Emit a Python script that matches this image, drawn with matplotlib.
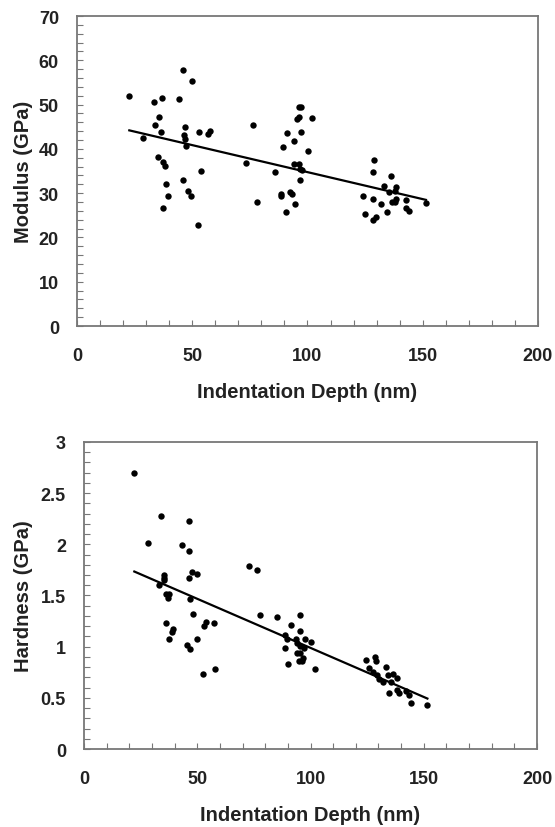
import numpy as np
import matplotlib
matplotlib.use("Agg")
import matplotlib.pyplot as plt
from matplotlib.ticker import MultipleLocator, FuncFormatter

# values
depth_mod = [22.7, 28.8, 33.4, 36.9, 44.1, 46.1, 49.8, 35.4, 34.0, 36.3,
             46.9, 46.4, 46.9, 47.3, 52.8, 57.0, 57.7, 35.3, 37.2, 38.3,
             53.6, 46.1, 38.8, 39.3, 48.2, 49.6, 37.4, 52.3, 76.4, 73.2,
             78.0, 86.0, 88.4, 88.7, 90.7, 89.2, 91.2, 94.1, 92.4, 93.4,
             94.7, 94.1, 96.2, 96.8, 97.8, 96.6, 96.2, 97.3, 95.3, 96.2,
             97.3, 100.1, 102.1, 129.0, 128.3, 136.4, 124.2, 128.3, 131.8, 133.2,
             135.2, 138.4, 138.0, 136.5, 138.0, 138.6, 142.7, 142.7, 144.2, 134.4,
             125.1, 128.3, 129.7, 151.4]
modulus = [51.9, 42.4, 50.5, 51.5, 51.2, 57.9, 55.4, 47.2, 45.5, 43.9,
           45.0, 43.1, 42.2, 40.7, 43.9, 43.4, 44.0, 38.1, 37.0, 36.2,
           35.1, 33.0, 32.1, 29.4, 30.4, 29.3, 26.6, 22.9, 45.5, 36.9,
           28.1, 34.8, 29.9, 29.4, 25.7, 40.4, 43.5, 41.8, 30.3, 29.8,
           27.5, 36.6, 36.6, 35.4, 35.2, 33.0, 49.5, 49.5, 46.7, 47.1,
           43.9, 39.6, 47.0, 37.6, 34.9, 33.8, 29.3, 28.8, 27.5, 31.7,
           30.2, 31.3, 30.4, 28.1, 28.1, 28.6, 28.4, 26.6, 26.0, 25.7,
           25.3, 23.9, 24.6, 27.9]

depth_hard = [22.2, 28.3, 33.9, 46.2, 43.4, 46.2, 35.3, 35.3, 35.3, 33.3,
              36.1, 37.7, 36.9, 46.2, 47.7, 49.7, 46.8, 48.3, 36.1, 39.4,
              38.8, 37.4, 53.9, 52.8, 57.4, 49.7, 45.3, 46.9, 52.4, 57.7,
              73.0, 76.5, 77.7, 85.3, 91.4, 95.4, 95.4, 88.7, 89.8, 93.6,
              93.9, 97.7, 100.4, 88.6, 95.4, 97.2, 93.9, 95.4, 96.5, 94.8,
              96.2, 90.1, 101.9, 124.5, 128.5, 128.8, 133.3, 125.7, 127.5, 129.2,
              130.4, 131.9, 134.2, 136.6, 138.1, 135.4, 134.5, 138.1, 138.9, 142.2,
              143.3, 144.2, 151.6]
hardness = [2.70, 2.01, 2.28, 2.23, 1.99, 1.93, 1.70, 1.67, 1.65, 1.60,
            1.51, 1.51, 1.48, 1.67, 1.73, 1.71, 1.47, 1.32, 1.23, 1.17,
            1.14, 1.07, 1.24, 1.20, 1.23, 1.07, 1.02, 0.98, 0.73, 0.78,
            1.79, 1.75, 1.31, 1.29, 1.21, 1.31, 1.15, 1.11, 1.07, 1.07,
            1.04, 1.07, 1.05, 0.99, 1.01, 0.99, 0.94, 0.94, 0.89, 0.86,
            0.86, 0.83, 0.78, 0.87, 0.90, 0.86, 0.80, 0.79, 0.75, 0.72,
            0.68, 0.65, 0.72, 0.73, 0.69, 0.65, 0.55, 0.58, 0.55, 0.57,
            0.53, 0.45, 0.43]

X_LABEL = "Indentation Depth (nm)"
TEXT = "#222222"
SPINE = "#777777"

plt.rcParams["font.family"] = ["Liberation Sans", "DejaVu Sans"]
plt.rcParams["font.weight"] = "bold"


def draw_panel(ax, x, y, ylabel, ymax, ymajor, yminor, ylab_x):
    ax.plot(x, y, "o", color="black", ms=4.6, mec="none", zorder=3)
    coef = np.polyfit(x, y, 1)
    xs = np.array([min(x), max(x)])
    ax.plot(xs, np.polyval(coef, xs), color="black", lw=1.6, zorder=2)

    ax.set_xlim(0, 200)
    ax.set_ylim(0, ymax)
    ax.xaxis.set_major_locator(MultipleLocator(50))
    ax.xaxis.set_minor_locator(MultipleLocator(10))
    ax.yaxis.set_major_locator(MultipleLocator(ymajor))
    ax.yaxis.set_minor_locator(MultipleLocator(yminor))
    ax.yaxis.set_major_formatter(FuncFormatter(lambda v, p: f"{v:g}"))
    ax.tick_params(which="both", direction="in", color=SPINE, width=0.8,
                   labelsize=13, labelcolor=TEXT)
    ax.tick_params(axis="x", which="both", length=4, pad=15)
    ax.tick_params(axis="y", which="both", length=4, pad=13)
    for s in ax.spines.values():
        s.set_color(SPINE)
        s.set_linewidth(1.3)
    ax.set_xlabel(X_LABEL, fontsize=14.5, fontweight="bold", color=TEXT)
    ax.set_ylabel(ylabel, fontsize=14.5, fontweight="bold", color=TEXT)
    ax.xaxis.set_label_coords(0.5, -0.182)
    ax.yaxis.set_label_coords(ylab_x, 0.5)


fig = plt.figure(figsize=(5.55, 8.28), dpi=100)
ax1 = fig.add_axes([0.1387, 0.605, 0.8306, 0.3744])
ax2 = fig.add_axes([0.1514, 0.0942, 0.8162, 0.3708])

draw_panel(ax1, depth_mod, modulus, "Modulus (GPa)", 70, 10, 2, -0.095)
draw_panel(ax2, depth_hard, hardness, "Hardness (GPa)", 3, 0.5, 0.1, -0.112)

fig.savefig("out.png", dpi=100)
